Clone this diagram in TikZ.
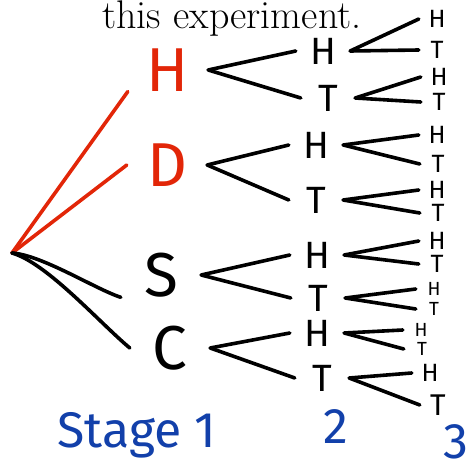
\documentclass[tikz,border=0pt]{standalone}
\usepackage{fontspec}
\setsansfont{Fira Sans}
\definecolor{penred}{RGB}{226,38,8}
\definecolor{penblue}{RGB}{18,64,170}

\begin{document}
\begin{tikzpicture}[x=1pt, y=-1pt,
    branch/.style={line width=3.6pt, line cap=round},
    first/.style={font=\sffamily\fontsize{62}{62}\selectfont, minimum width=80pt, inner ysep=0pt},
    second/.style={font=\sffamily\fontsize{38}{38}\selectfont, minimum width=54pt, inner ysep=0pt},
    third/.style={font=\sffamily\fontsize{25}{25}\selectfont, minimum width=36pt, inner ysep=0pt},
    thirdsmall/.style={third, font=\sffamily\fontsize{19}{19}\selectfont},
    stagelabel/.style={font=\sffamily\fontsize{50}{50}\selectfont, text=penblue, anchor=base}]
    \useasboundingbox (0,0) rectangle (475,460);

    \node[anchor=base, font=\fontsize{40}{44}\selectfont] (title) at (232,29) {this experiment.};

    % stage 1: the suit
    \coordinate (root) at (12,253);
    \node[first, text=penred] (hearts) at (168,70) {H};
    \node[first, text=penred] (diamonds) at (167,165) {D};
    \node[first] (spades) at (161,275) {S};
    \node[first] (clubs) at (170,348) {C};

    \draw[branch, penred] (root) -- (hearts.south west);
    \draw[branch, penred] (root) -- (diamonds.west);
    \draw[branch] (root) .. controls +(30,2) and +(-25,-8) .. (spades.south west);
    \draw[branch] (root) .. controls +(35,10) and +(-30,-25) .. (clubs.west);

    % stage 2: first coin
    \foreach \n/\x/\y/\t in {hearts-H/323/51/H, hearts-T/328/98/T,
        diamonds-H/316/145/H, diamonds-T/316/200/T,
        spades-H/317/255/H, spades-T/318/298/T,
        clubs-H/317/333/H, clubs-T/322/378/T}
        \node[second] (\n) at (\x,\y) {\t};

    % stage 3: second coin
    \foreach \n/\x/\y/\t in {hearts-H-H/437/19/H, hearts-H-T/437/50/T,
        hearts-T-H/439/77/H, hearts-T-T/439/102/T,
        diamonds-H-H/437/135/H, diamonds-H-T/438/164/T,
        diamonds-T-H/437/190/H, diamonds-T-T/438/213/T,
        spades-H-H/437/241/H, spades-H-T/437/264/T}
        \node[third] (\n) at (\x,\y) {\t};
    \node[thirdsmall] (spades-T-H) at (434,289) {H};
    \node[thirdsmall] (spades-T-T) at (434,309) {T};
    \node[thirdsmall] (clubs-H-H) at (421,330) {H};
    \node[thirdsmall] (clubs-H-T) at (422,349) {T};
    \node[third] (clubs-T-H) at (430,373) {H};
    \node[third, font=\sffamily\fontsize{30}{30}\selectfont] (clubs-T-T) at (438,405) {T};

    \foreach \n in {hearts, diamonds, spades, clubs} {
        \draw[branch] (\n.east) -- (\n-H.west);
        \draw[branch] (\n.east) -- (\n-T.west);
        \foreach \m in {H, T} {
            \draw[branch] (\n-\m.east) -- (\n-\m-H.west);
            \draw[branch] (\n-\m.east) -- (\n-\m-T.west);
        }
    }

    \node[stagelabel] (stage1) at (137,447) {Stage 1};
    \node[stagelabel] (stage2) at (336,443) {2};
    \node[stagelabel] (stage3) at (456,458) {3};
\end{tikzpicture}
\end{document}
